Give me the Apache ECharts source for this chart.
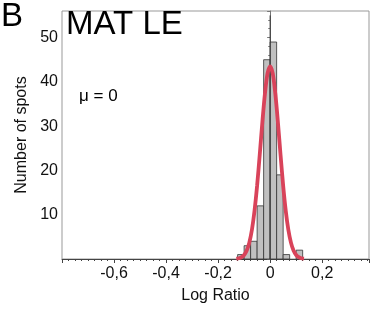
<!DOCTYPE html>
<html>
<head>
<meta charset="utf-8">
<script src="https://cdn.jsdelivr.net/npm/echarts@6/dist/echarts.min.js"></script>
<style>
html, body { margin: 0; padding: 0; background: #fff; }
#container { width: 370px; height: 309px; }
</style>
</head>
<body>
<div id="container"></div>
<script>
var binEdges = [-0.125, -0.1, -0.075, -0.05, -0.025, 0, 0.025, 0.05, 0.075, 0.1, 0.125];
var binCounts = [1, 3, 4, 12, 45, 49, 19, 1, 0, 2];

// fitted normal curve
var curveX = [-0.13, -0.12, -0.11, -0.1, -0.09, -0.08, -0.07, -0.06, -0.05, -0.04, -0.03, -0.02, -0.01,
	0, 0.01, 0.02, 0.03, 0.04, 0.05, 0.06, 0.07, 0.08, 0.09, 0.1, 0.11, 0.12, 0.13];
var curveY = [0.06, 0.17, 0.4, 0.9, 1.9, 3.7, 6.6, 10.9, 16.6, 23.5, 30.8, 37.3, 41.9,
	43.5, 41.9, 37.3, 30.8, 23.5, 16.6, 10.9, 6.6, 3.7, 1.9, 0.9, 0.4, 0.17, 0.06];

var refLine = [[0, 0], [0, 55]];

var myChart = echarts.init(document.getElementById('container'));

var bars = [];
binCounts.forEach(function (c, i) {
	if (c > 0) bars.push([binEdges[i], binEdges[i + 1], c]);
});

var font = 'Liberation Sans, Arial, sans-serif';

option = {
	animation: false,
	grid: {
		left: 62, right: 1, top: 11, bottom: 49,
		show: true, borderColor: '#999', borderWidth: 1
	},
	xAxis: {
		type: 'value',
		min: -0.8,
		max: 0.38,
		interval: 0.2,
		name: 'Log Ratio',
		nameLocation: 'middle',
		nameGap: 29,
		nameTextStyle: { fontFamily: font, fontSize: 16, color: '#111' },
		axisLine: { onZero: false, lineStyle: { color: '#444' } },
		axisTick: { length: 4, lineStyle: { color: '#444' } },
		minorTick: { show: true, splitNumber: 8, length: 2, lineStyle: { color: '#444' } },
		splitLine: { show: false },
		axisLabel: {
			showMinLabel: false, showMaxLabel: false,
			fontFamily: font, fontSize: 16, color: '#111', margin: 7,
			formatter: function (v) { return String(Math.round(v * 10) / 10).replace('.', ','); }
		}
	},
	yAxis: {
		type: 'value',
		min: 0,
		max: 56,
		interval: 10,
		name: 'Number of spots',
		nameLocation: 'middle',
		nameGap: 32,
		nameTextStyle: { fontFamily: font, fontSize: 16, color: '#111' },
		axisLine: { show: true, lineStyle: { color: '#777' } },
		axisTick: { show: true, length: 3, lineStyle: { color: '#777' } },
		minorTick: { show: true, splitNumber: 5, length: 2, lineStyle: { color: '#888' } },
		splitLine: { show: false },
		axisLabel: {
			showMinLabel: false, showMaxLabel: false,
			fontFamily: font, fontSize: 16, color: '#111', margin: 4
		}
	},
	graphic: [
		{ type: 'text', left: 1, top: 0, style: { text: 'B', font: '33px ' + font, fill: '#000' } },
		{ type: 'text', left: 66, top: 8, style: { text: 'MAT LE', font: '33px ' + font, fill: '#000' } },
		{ type: 'text', left: 79, top: 88, style: { text: 'μ = 0', font: '17px ' + font, fill: '#000' } }
	],
	series: [
		{
			type: 'custom',
			data: bars,
			renderItem: function (params, api) {
				var p0 = api.coord([api.value(0), api.value(2)]);
				var p1 = api.coord([api.value(1), 0]);
				return {
					type: 'rect',
					shape: { x: p0[0], y: p0[1], width: p1[0] - p0[0], height: p1[1] - p0[1] },
					style: { fill: '#c0c0c0', stroke: '#333', lineWidth: 0.8 }
				};
			},
			z: 2
		},
		{
			type: 'line',
			data: refLine,
			symbol: 'none',
			lineStyle: { color: '#333', width: 1 },
			z: 3
		},
		{
			type: 'line',
			data: curveX.map(function (x, i) { return [x, curveY[i]]; }),
			symbol: 'none',
			smooth: 0.3,
			lineStyle: { color: '#d9435a', width: 3.8 },
			z: 4
		}
	]
};

myChart.setOption(option);
</script>
</body>
</html>
